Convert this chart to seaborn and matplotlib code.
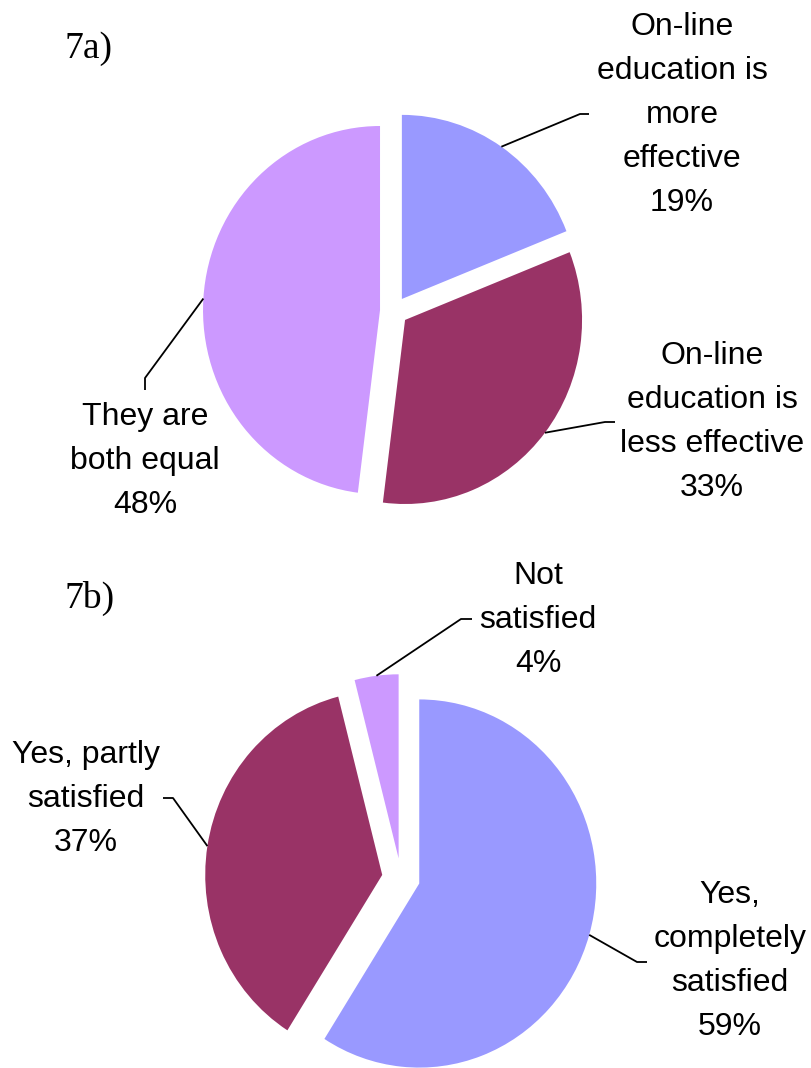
import numpy as np
import matplotlib
matplotlib.use("Agg")
import matplotlib.pyplot as plt
import seaborn as sns

# 7a) effectiveness of on-line vs classic education
labels_a = ["On-line\neducation is\nmore\neffective", "On-line\neducation is\nless effective", "They are\nboth equal"]
values_a = [19, 33, 48]

# 7b) satisfaction
labels_b = ["Yes,\ncompletely\nsatisfied", "Yes, partly\nsatisfied", "Not\nsatisfied"]
values_b = [59, 37, 4]

colors = ["#9999FF", "#993366", "#CC99FF"]

W, H = 812, 1068
S = 1.04  # the original pies are slightly stretched vertically


def P(x, y):
    # pixel position (from top-left) -> data coords
    return x, (H - y) / S


sns.set_theme(style="white")
plt.rcParams["font.family"] = ["Liberation Sans", "DejaVu Sans"]

fig = plt.figure(figsize=(W / 100, H / 100), dpi=100)
ax = fig.add_axes([0, 0, 1, 1])

R = 177


def draw_pie(values, labels, center_px, explode, text_pos, elbows, tails):
    cx, cy = P(*center_px)
    # explode is an absolute offset in data units here
    wedges, _ = ax.pie(values, colors=colors, startangle=90, counterclock=False,
                       radius=R, center=(cx, cy), explode=[explode] * len(values),
                       frame=True, wedgeprops=dict(linewidth=0))
    for w, lab, v, tp, el, tl in zip(wedges, labels, values, text_pos, elbows, tails):
        mid = np.deg2rad((w.theta1 + w.theta2) / 2)
        ox, oy = w.center
        sx = ox + R * np.cos(mid)
        sy = oy + R * np.sin(mid)
        ex, ey = P(*el)
        tx, ty = P(*tl)
        ax.plot([sx, ex, tx], [sy, ey, ty], color="black", lw=1.3,
                solid_capstyle="butt", zorder=3)
        x, y = P(*tp)
        ax.text(x, y, f"{lab}\n{v}%", ha="center", va="center", fontsize=23,
                linespacing=1.6, color="black")


draw_pie(values_a, labels_a, (394, 311), 14,
         text_pos=[(682, 115), (712, 422), (145, 461)],
         elbows=[(580, 114), (605, 422), (145, 378)],
         tails=[(589, 114), (615, 422), (145, 390)])

draw_pie(values_b, labels_b, (401, 878), 19,
         text_pos=[(730, 961), (86, 799), (538, 620)],
         elbows=[(637, 962), (173, 798), (461, 619)],
         tails=[(647, 962), (163, 798), (472, 619)])

for t, y in [("7a)", 58), ("7b)", 608)]:
    x, yy = P(65, y)
    ax.text(x, yy, t, fontsize=27, family=["Liberation Serif", "DejaVu Serif"],
            ha="left", va="baseline", color="black")

ax.set_xlim(0, W)
ax.set_ylim(0, H / S)
ax.set_aspect("auto")
ax.axis("off")

fig.savefig("out.png", dpi=100, facecolor="white")
